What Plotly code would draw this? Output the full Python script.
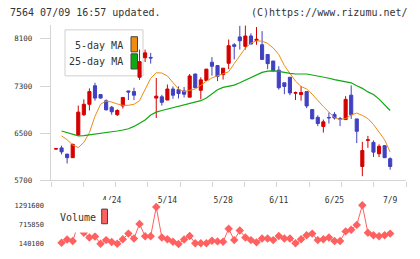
import plotly.graph_objects as go

# ---------------- data ----------------
open_ = [6232, 6252, 6147, 6086, 6472, 6814, 6991, 7305, 7156, 7051,
         6941, 6814, 6963, 7217, 7206, 7449, 7780, 7785, 7096, 7118,
         7063, 7250, 7239, 7217, 7112, 7504, 7228, 7394, 7703, 7647,
         7493, 7686, 8000, 8133, 7973, 8149, 8072, 8000, 7835, 7725,
         7570, 7355, 7449, 7180, 7156, 7206, 6902, 6770, 6616, 6769,
         6820, 6746, 6732, 7145, 6743, 5937, 6380, 6345, 6152, 6290, 6069]
high = [6245, 6290, 6150, 6323, 6969, 7074, 7261, 7355, 7160, 7074,
        6963, 6908, 7110, 7220, 7272, 7918, 7918, 7863, 7438, 7151,
        7327, 7294, 7294, 7283, 7504, 7510, 7449, 7590, 7791, 7650,
        7603, 8089, 8028, 8320, 8325, 8194, 8300, 8232, 7835, 7725,
        7636, 7355, 7449, 7206, 7300, 7206, 6905, 6803, 6732, 6853,
        6858, 6776, 7129, 7311, 6743, 6356, 6456, 6378, 6312, 6290, 6092]
low = [6228, 6141, 5987, 6086, 6456, 6792, 6886, 7052, 7090, 6886,
       6814, 6792, 6919, 7063, 7063, 7405, 7708, 7680, 6759, 6969,
       7063, 7085, 7090, 7107, 7112, 7265, 7074, 7390, 7476, 7383,
       7410, 7587, 7752, 7918, 7918, 8012, 8000, 7741, 7587, 7550,
       7239, 7162, 7145, 7063, 7052, 6925, 6740, 6621, 6511, 6665,
       6732, 6621, 6732, 6743, 6334, 5772, 6252, 6097, 6097, 6081, 5882]
close = [6238, 6185, 6086, 6312, 6858, 6991, 7206, 7096, 7096, 6897,
         6864, 6886, 7107, 7200, 7145, 7714, 7863, 7776, 7129, 7024,
         7250, 7145, 7173, 7162, 7471, 7272, 7405, 7587, 7636, 7465,
         7603, 7984, 7973, 8067, 8149, 8012, 8094, 7752, 7680, 7559,
         7272, 7294, 7184, 7187, 7190, 6963, 6743, 6665, 6693, 6762,
         6759, 6740, 7074, 6814, 6533, 6207, 6388, 6180, 6279, 6086, 5937]

ma5 = [None, 6456, 6390, 6301, 6257, 6345, 6511, 6787, 6991, 7046,
       7029, 6996, 6974, 6974, 6991, 7052, 7239, 7432, 7526, 7521,
       7471, 7366, 7250, 7206, 7228, 7250, 7311, 7383, 7438, 7471,
       7504, 7543, 7680, 7807, 7945, 8028, 8067, 8061, 8023, 7945,
       7835, 7647, 7504, 7383, 7294, 7250, 7162, 7052, 6952, 6858,
       6765, 6732, 6748, 6809, 6842, 6803, 6748, 6649, 6527, 6389, 6180]
ma25 = [None, 6538, 6511, 6478, 6456, 6461, 6472, 6489, 6505, 6516,
        6527, 6538, 6555, 6577, 6616, 6665, 6726, 6809, 6858, 6886,
        6908, 6930, 6952, 6974, 7002, 7024, 7052, 7096, 7173, 7239,
        7278, 7294, 7316, 7355, 7399, 7449, 7493, 7532, 7554, 7559,
        7548, 7526, 7515, 7504, 7504, 7504, 7487, 7471, 7454, 7432,
        7410, 7388, 7377, 7355, 7305, 7261, 7201, 7156, 7079, 6991, 6886]
volume = [None, 177500, 275400, 226500, 744600, 471200, 333000, 361800, 148700, 255200,
          197700, 148700, 284000, 448100, 304200, 736000, 370400, 370400, 1240000, 333000,
          284000, 206300, 140100, 275400, 379000, 160200, 160200, 160200, 235100, 217800,
          206300, 592100, 255200, 543100, 333000, 255200, 189000, 304200, 304200, 255200,
          379000, 304200, 304200, 160200, 284000, 399200, 448100, 255200, 284000, 333000,
          226500, 226500, 514300, 563300, 707200, 1291600, 476900, 399200, 370400, 399200, 448100]

date_labels = ["4/24", "5/14", "5/28", "6/11", "6/25", "7/9"]
date_label_index = [10, 20, 30, 40, 50, 60]
price_ticks = [5700, 6500, 7300, 8100]
vol_ticks = [140100, 715850, 1291600]
vol_ticktext = ["140100", "715850", "1291600"]

header_left = "7564 07/09 16:57 updated."
header_right = "(C)https://www.rizumu.net/"

# ---------------- styling / layout helpers ----------------
W, H = 420, 259
ML, MR, MT, MB = 51, 14, 25, 10
PW, PH = W - ML - MR, H - MT - MB


def px(x):
    return (x - ML) / PW


def py(y):
    return (H - MB - y) / PH


FONT = "DejaVu Sans Mono"
RED = "#d40000"
BLUE = "#4040c0"
ORANGE = "#f08c10"
GREEN = "#10a810"
VOLC = "#ff6060"
AXC = "#d4d4d4"

idx = list(range(len(close)))
xmin, xmax = -0.898, 62.84
n_ticks = 12
xticks = [xmin + (xmax - xmin) * i / (n_ticks - 1) for i in range(n_ticks)]

fig = go.Figure()

fig.add_trace(go.Candlestick(
    x=idx, open=open_, high=high, low=low, close=close,
    increasing=dict(line=dict(color=RED, width=1), fillcolor=RED),
    decreasing=dict(line=dict(color=BLUE, width=1), fillcolor=BLUE),
    whiskerwidth=0, xaxis="x", yaxis="y", hoverinfo="skip", showlegend=False))

fig.add_trace(go.Scatter(x=idx, y=ma5, mode="lines", line=dict(color=ORANGE, width=1),
                         xaxis="x", yaxis="y", hoverinfo="skip", showlegend=False))
fig.add_trace(go.Scatter(x=idx, y=ma25, mode="lines", line=dict(color=GREEN, width=1.2),
                         xaxis="x", yaxis="y", hoverinfo="skip", showlegend=False))

fig.add_trace(go.Scatter(x=idx, y=volume, mode="lines+markers",
                         line=dict(color=VOLC, width=1),
                         marker=dict(symbol="diamond", size=6.5, color=VOLC),
                         cliponaxis=False, connectgaps=False,
                         xaxis="x2", yaxis="y2", hoverinfo="skip", showlegend=False))

shapes = [
    # price legend box
    dict(type="rect", xref="paper", yref="paper", x0=px(65), x1=px(143), y0=py(77), y1=py(30),
         line=dict(color="#cfcfcf", width=1), fillcolor="rgba(255,255,255,0.85)", layer="below"),
    dict(type="rect", xref="paper", yref="paper", x0=px(131), x1=px(137.5), y0=py(52.5), y1=py(37),
         line=dict(color="#444", width=1), fillcolor=ORANGE, layer="below"),
    dict(type="rect", xref="paper", yref="paper", x0=px(131), x1=px(137.5), y0=py(70), y1=py(54.5),
         line=dict(color="#444", width=1), fillcolor=GREEN, layer="below"),
    # volume legend (opaque background)
    dict(type="rect", xref="paper", yref="paper", x0=px(55), x1=px(112), y0=py(237.3), y1=py(204),
         line=dict(width=0), fillcolor="white", layer="above"),
    dict(type="rect", xref="paper", yref="paper", x0=px(101.7), x1=px(107.5), y0=py(228.3), y1=py(213.3),
         line=dict(color="#444", width=1), fillcolor=VOLC, layer="above"),
]

txt = dict(family=FONT, size=10, color="#333")
annotations = [
    dict(text=header_left, xref="paper", yref="paper", x=px(8), y=py(12.3),
         xanchor="left", yanchor="middle", showarrow=False, font=txt),
    dict(text=header_right, xref="paper", yref="paper", x=px(410), y=py(12.3),
         xanchor="right", yanchor="middle", showarrow=False, font=txt),
    dict(text="5-day MA", xref="paper", yref="paper", x=px(125), y=py(45.5),
         xanchor="right", yanchor="middle", showarrow=False, font=txt),
    dict(text="25-day MA", xref="paper", yref="paper", x=px(125), y=py(62.5),
         xanchor="right", yanchor="middle", showarrow=False, font=txt),
    dict(text="Volume", xref="paper", yref="paper", x=px(58), y=py(222),
         xanchor="left", yanchor="middle", showarrow=False, font=txt),
]

fig.update_layout(
    width=W, height=H,
    margin=dict(l=ML, r=MR, t=MT, b=MB, pad=0),
    paper_bgcolor="white", plot_bgcolor="white",
    boxgap=0.2,
    showlegend=False,
    hovermode=False,
    shapes=shapes, annotations=annotations,
    xaxis=dict(domain=[0, 1], range=[xmin, xmax], anchor="y",
               showline=True, linecolor=AXC, linewidth=1.3,
               ticks="outside", ticklen=5, tickcolor=AXC, tickwidth=1.3,
               tickvals=xticks, showticklabels=False,
               showgrid=False, zeroline=False,
               rangeslider=dict(visible=False)),
    yaxis=dict(domain=[py(184), 1], range=[5700, 8335], anchor="x",
               showline=True, linecolor=AXC, linewidth=1.3,
               ticks="outside", ticklen=10, tickcolor=AXC, tickwidth=1.3,
               tickvals=price_ticks, ticklabelstandoff=6,
               tickfont=dict(family=FONT, size=7.5, color="#333"),
               showgrid=False, zeroline=False),
    xaxis2=dict(domain=[0, 1], range=[xmin, xmax], anchor="y2", side="top",
                showline=False, showgrid=False, zeroline=False,
                ticks="", ticklen=0,
                tickvals=date_label_index, ticktext=date_labels,
                tickfont=dict(family=FONT, size=8, color="#333")),
    yaxis2=dict(domain=[0, py(209.3)], range=[vol_ticks[0], vol_ticks[-1]], anchor="x2",
                showline=False, showgrid=False, zeroline=False,
                ticks="", tickvals=vol_ticks, ticktext=vol_ticktext,
                ticklabelstandoff=6,
                tickfont=dict(family=FONT, size=7, color="#333")),
)

fig.write_html("out.html")
